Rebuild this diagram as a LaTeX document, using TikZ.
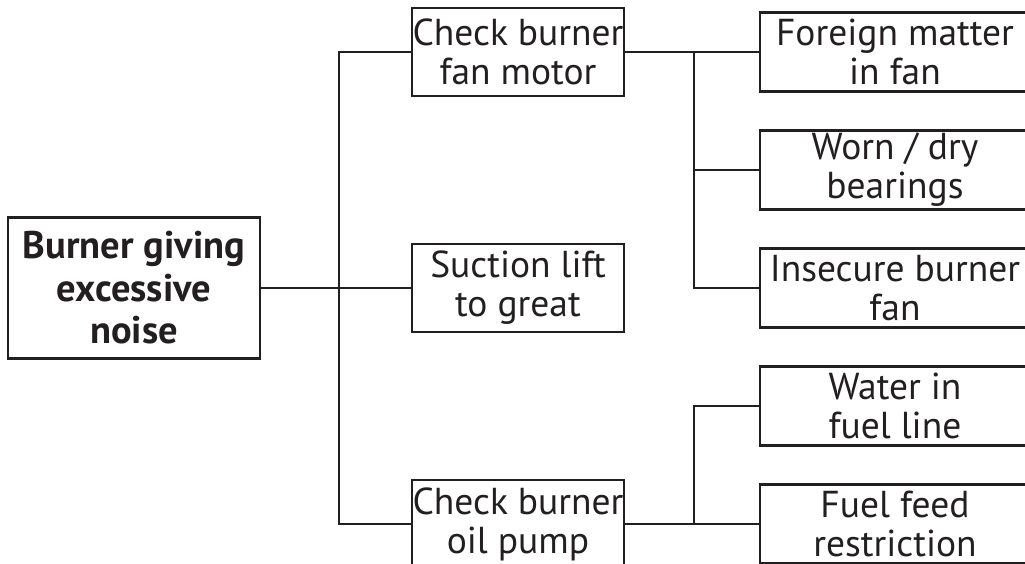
\documentclass[tikz,border=0pt]{standalone}
\usepackage{fontspec}
\setmainfont{PT Sans}
\definecolor{ink}{HTML}{231F20}
\begin{document}
\begin{tikzpicture}[x=1pt,y=-1pt,
  box/.style={draw=ink,line width=2.2pt,rectangle,align=center,text=ink,inner sep=0pt,
    font=\fontsize{37.5}{39}\selectfont},
  mid/.style={box,minimum width=212pt,minimum height=88pt},
  cause/.style={box,minimum width=270pt,minimum height=79pt},
  rootbox/.style={box,minimum width=252pt,minimum height=141pt,font=\fontsize{38.5}{42.5}\selectfont\bfseries},
  link/.style={draw=ink,line width=2.2pt}]
\useasboundingbox (0,0) rectangle (1025,564);
\clip (0,0) rectangle (1025,564);
\node[rootbox] (root) at (134,288) {Burner giving\\excessive\\noise};
\node[mid] (fan) at (518,52) {Check burner\\fan motor};
\node[mid] (suction) at (518,288) {Suction lift\\to great};
\node[mid] (pump) at (518,524) {Check burner\\oil pump};
\node[cause] (r1) at (895,52) {Foreign matter\\in fan};
\node[cause] (r2) at (895,170) {Worn / dry\\bearings};
\node[cause] (r3) at (895,288) {Insecure burner\\fan};
\node[cause] (r4) at (895,406) {Water in\\fuel line};
\node[cause] (r5) at (895,524) {Fuel feed\\restriction};
\coordinate (tr) at (339,0);
\coordinate (br) at (694,0);
\draw[link] (root.east) -- (suction.west);
\draw[link] (fan.west) -- (fan.west -| tr) -- (pump.west -| tr) -- (pump.west);
\draw[link] (fan.east) -- (r1.west);
\draw[link] (fan.east -| br) -- (r3.west -| br) -- (r3.west);
\draw[link] (r2.west -| br) -- (r2.west);
\draw[link] (pump.east) -- (r5.west);
\draw[link] (r5.west -| br) -- (r4.west -| br) -- (r4.west);
\end{tikzpicture}
\end{document}
